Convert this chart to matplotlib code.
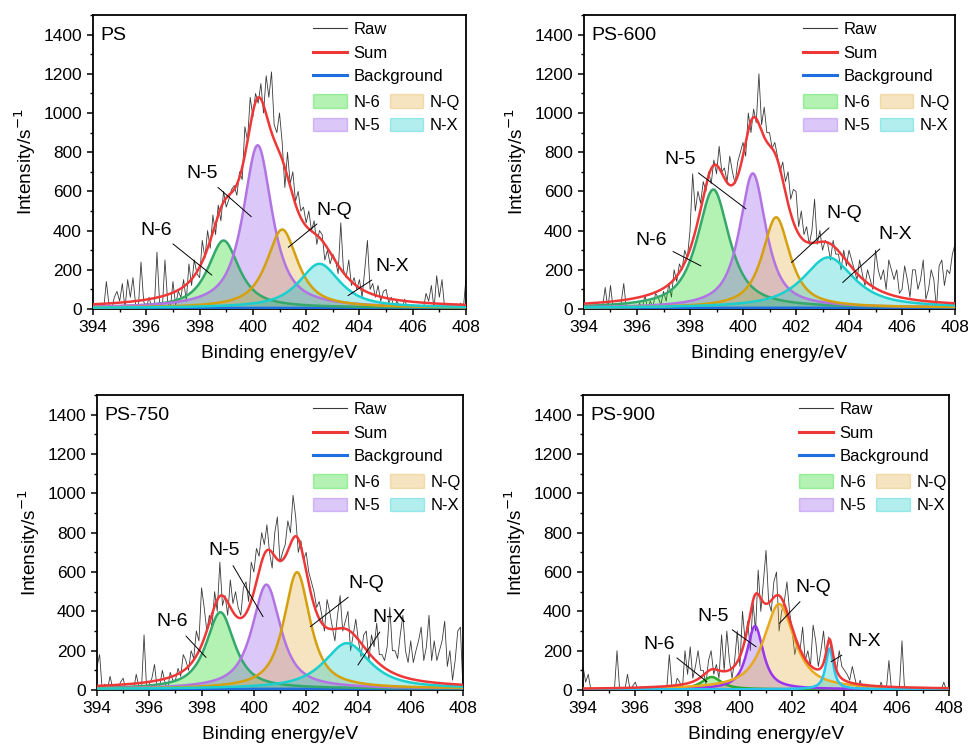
import matplotlib
matplotlib.use("Agg")
import matplotlib.pyplot as plt
import numpy as np
from matplotlib.lines import Line2D
from matplotlib.patches import Patch

plt.rcParams['font.family'] = ['Liberation Sans', 'DejaVu Sans']

# energy grid of the N 1s scans (0.1 eV step)
energy = np.round(np.arange(394.0, 408.05, 0.1), 2)

samples = ['PS', 'PS-600', 'PS-750', 'PS-900']
components = ['N-6', 'N-5', 'N-Q', 'N-X']

# measured counts per sample, one row per eV
raw_ps = [
    0, 10, 0, 30, 0, 140, 20, 0, 60, 90,
    40, 130, 0, 150, 60, 160, 20, 0, 240, 40,
    0, 60, 10, 0, 290, 30, 0, 250, 40, 0,
    140, 20, 90, 60, 150, 40, 230, 120, 250, 180,
    160, 350, 260, 400, 310, 480, 380, 530, 450, 600,
    520, 560, 610, 630, 580, 700, 660, 930, 860, 1080,
    980, 1100, 1050, 1150, 1000, 1190, 1080, 1210, 940, 900,
    1000, 850, 620, 800, 640, 700, 550, 600, 500, 520,
    440, 500, 400, 450, 330, 400, 380, 250, 300, 230,
    280, 250, 180, 440, 200, 160, 250, 120, 160, 100,
    150, 60, 200, 350, 100, 130, 60, 120, 40, 90,
    100, 30, 60, 0, 40, 20, 0, 50, 0, 0,
    20, 0, 0, 10, 0, 80, 40, 120, 0, 170,
    60, 150, 0, 20, 0, 0, 10, 0, 30, 0,
    160]
raw_600 = [
    0, 0, 20, 0, 0, 0, 0, 10, 110, 0,
    120, 0, 0, 0, 30, 130, 0, 10, 0, 20,
    0, 30, 0, 70, 0, 40, 10, 80, 60, 20,
    90, 40, 130, 60, 200, 140, 230, 200, 300, 260,
    400, 690, 500, 600, 540, 650, 600, 700, 640, 760,
    690, 830, 700, 720, 650, 780, 700, 640, 750, 800,
    850, 780, 1000, 900, 1020, 950, 1200, 940, 1030, 900,
    900, 820, 850, 780, 700, 750, 650, 700, 560, 610,
    600, 420, 500, 380, 420, 330, 400, 560, 330, 400,
    300, 350, 330, 250, 350, 280, 280, 200, 300, 220,
    300, 250, 200, 150, 250, 180, 120, 200, 150, 100,
    300, 200, 150, 200, 100, 250, 200, 150, 200, 80,
    100, 220, 150, 60, 200, 200, 100, 150, 250, 50,
    100, 200, 150, 0, 220, 250, 120, 200, 180, 280,
    330]
raw_750 = [
    120, 180, 0, 30, 0, 70, 10, 0, 0, 40,
    60, 0, 10, 20, 0, 80, 20, 0, 280, 0,
    30, 60, 130, 10, 20, 100, 40, 0, 90, 50,
    50, 110, 70, 180, 150, 100, 200, 160, 300, 250,
    520, 420, 300, 380, 320, 500, 400, 650, 430, 480,
    380, 560, 440, 500, 420, 380, 520, 550, 450, 650,
    600, 720, 680, 800, 740, 840, 700, 620, 800, 880,
    650, 700, 740, 860, 800, 990, 880, 700, 760, 660,
    700, 600, 550, 500, 420, 450, 380, 300, 460, 400,
    320, 250, 380, 480, 300, 350, 400, 200, 280, 360,
    250, 170, 280, 300, 150, 280, 220, 340, 180, 180,
    150, 220, 420, 200, 200, 160, 280, 380, 200, 140,
    250, 140, 200, 250, 320, 150, 220, 380, 150, 250,
    150, 200, 250, 350, 120, 200, 50, 150, 300, 320,
    0]
raw_900 = [
    120, 40, 80, 0, 0, 0, 0, 0, 0, 0,
    0, 0, 0, 200, 0, 0, 0, 80, 0, 20,
    40, 0, 0, 0, 0, 0, 0, 0, 0, 0,
    0, 0, 0, 180, 20, 0, 60, 40, 0, 200,
    80, 220, 60, 120, 200, 100, 100, 30, 150, 200,
    80, 130, 60, 280, 100, 300, 150, 60, 150, 300,
    120, 400, 250, 350, 200, 450, 300, 610, 400, 550,
    710, 450, 400, 550, 600, 300, 400, 450, 550, 400,
    300, 180, 250, 200, 320, 150, 200, 120, 330, 250,
    120, 200, 300, 150, 270, 200, 150, 100, 200, 120,
    100, 80, 50, 120, 60, 0, 50, 0, 30, 0,
    0, 0, 20, 0, 40, 0, 0, 150, 0, 0,
    0, 0, 250, 0, 0, 0, 0, 0, 0, 0,
    0, 0, 0, 0, 0, 0, 0, 0, 40, 0,
    0]
raw_counts = [raw_ps, raw_600, raw_750, raw_900]

# fitted peaks: position (eV), height (counts/s), FWHM (eV) for N-6, N-5, N-Q, N-X
centers = [[398.90, 400.18, 401.10, 402.50],
           [398.88, 400.37, 401.25, 403.22],
           [398.72, 400.48, 401.65, 403.56],
           [398.92, 400.58, 401.50, 403.43]]
heights = [[344, 830, 400, 225],
           [604, 686, 462, 257],
           [390, 530, 593, 232],
           [63, 322, 434, 207]]
fwhms = [[1.40, 1.30, 1.40, 1.85],
         [1.45, 1.20, 1.25, 2.30],
         [1.30, 1.30, 1.20, 2.10],
         [0.90, 0.75, 1.40, 0.35]]
eta = 0.85
background = [(5, 6), (5, 7), (5, 7), (3, 4)]

# label text position and leader-line end for each component
label_text = [[(396.35, 403), (398.09, 692), (403.05, 505), (405.24, 217)],
              [(396.52, 352), (397.63, 765), (403.82, 486), (405.75, 378)],
              [(396.89, 347), (398.87, 708), (404.29, 542), (405.19, 370)],
              [(396.92, 234), (398.97, 376), (402.82, 522), (404.74, 246)]]
label_tip = [[(398.46, 173), (399.94, 471), (401.33, 315), (403.57, 68)],
             [(398.41, 220), (400.11, 511), (401.83, 237), (403.76, 135)],
             [(398.17, 166), (400.35, 373), (402.16, 322), (403.98, 127)],
             [(398.74, 42), (400.62, 220), (401.51, 339), (403.49, 144)]]

fill_colors = [(0.02, 0.83, 0.02), (0.54, 0.28, 0.91),
               (0.87, 0.65, 0.18), (0.0, 0.78, 0.78)]
edge_colors = ['#35a86c', '#b274e4', '#d4a00e', '#1ccfcf']
edge_colors_900 = ['#2fa82f', '#9a35ee', '#e8a91e', '#26c4ef']
sum_color = '#ee3838'
bg_color = '#1f6fe0'


def pseudo_voigt(x, c, h, w):
    u = (x - c) / w
    lor = 1.0 / (1.0 + 4.0 * u ** 2)
    gau = np.exp(-4.0 * np.log(2) * u ** 2)
    return h * (eta * lor + (1 - eta) * gau)


fig = plt.figure(figsize=(9.68, 7.48), dpi=100)
positions = [[0.0961, 0.5869, 0.3853, 0.393],
             [0.6033, 0.5869, 0.3833, 0.393],
             [0.1002, 0.0775, 0.3781, 0.3944],
             [0.6023, 0.0775, 0.3781, 0.3944]]

for k, name in enumerate(samples):
    ax = fig.add_axes(positions[k])
    x = np.linspace(394, 408, 1401)
    bg = np.linspace(background[k][0], background[k][1], x.size)
    edges = edge_colors_900 if k == 3 else edge_colors

    ax.plot(energy, raw_counts[k], color='#3a3a3a', lw=0.6, zorder=2)

    total = bg.copy()
    peaks = []
    for j in range(4):
        p = pseudo_voigt(x, centers[k][j], heights[k][j], fwhms[k][j])
        peaks.append(p)
        total += p
    for j in range(4):
        ax.fill_between(x, bg, bg + peaks[j], color=fill_colors[j],
                        alpha=0.3, lw=0, zorder=3)
    ax.plot(x, bg, color=bg_color, lw=1.8, zorder=4)
    ax.plot(x, total, color=sum_color, lw=1.8, zorder=6)
    for j in range(4):
        ax.plot(x, bg + peaks[j], color=edges[j], lw=1.8, zorder=5)

    for j, comp in enumerate(components):
        ax.annotate(comp, xy=label_tip[k][j], xytext=label_text[k][j],
                    ha='center', va='center', fontsize=14,
                    arrowprops=dict(arrowstyle='-', lw=0.7, color='black',
                                    shrinkA=3, shrinkB=0), zorder=7)

    ax.text(0.02, 0.96, name, transform=ax.transAxes, fontsize=14,
            ha='left', va='top')

    ax.set_xlim(394, 408)
    ax.set_ylim(0, 1500)
    ax.set_xticks(np.arange(394, 409, 2))
    ax.set_xticks(np.arange(394, 409, 1), minor=True)
    ax.set_yticks(np.arange(0, 1401, 200))
    ax.set_yticks(np.arange(0, 1501, 100), minor=True)
    ax.tick_params(which='major', direction='out', length=4.5, width=1.1,
                   labelsize=12.5)
    ax.tick_params(which='minor', direction='out', length=2.5, width=1.0)
    for s in ax.spines.values():
        s.set_linewidth(1.3)
    ax.set_xlabel('Binding energy/eV', fontsize=13.8, labelpad=7)
    ax.set_ylabel('Intensity/s$^{-1}$', fontsize=13.8, labelpad=4)

    line_handles = [Line2D([], [], color='#3a3a3a', lw=0.8),
                    Line2D([], [], color=sum_color, lw=2.2),
                    Line2D([], [], color=bg_color, lw=2.2)]
    leg1 = ax.legend(line_handles, ['Raw', 'Sum', 'Background'],
                     loc='upper left', bbox_to_anchor=(0.555, 1.022),
                     frameon=False, fontsize=12, handlelength=2.0,
                     handletextpad=0.4, labelspacing=0.52, borderpad=0.3)
    ax.add_artist(leg1)
    patch_handles = [Patch(facecolor=fill_colors[j], edgecolor=fill_colors[j],
                           alpha=0.3, lw=1.0) for j in (0, 1, 2, 3)]
    ax.legend(patch_handles, ['N-6', 'N-5', 'N-Q', 'N-X'], ncol=2,
              loc='upper left', bbox_to_anchor=(0.555, 0.776),
              frameon=False, fontsize=12, handlelength=2.0, handleheight=0.85,
              handletextpad=0.4, labelspacing=0.48, columnspacing=0.6,
              borderpad=0.3)

fig.savefig('out.png', dpi=100)
